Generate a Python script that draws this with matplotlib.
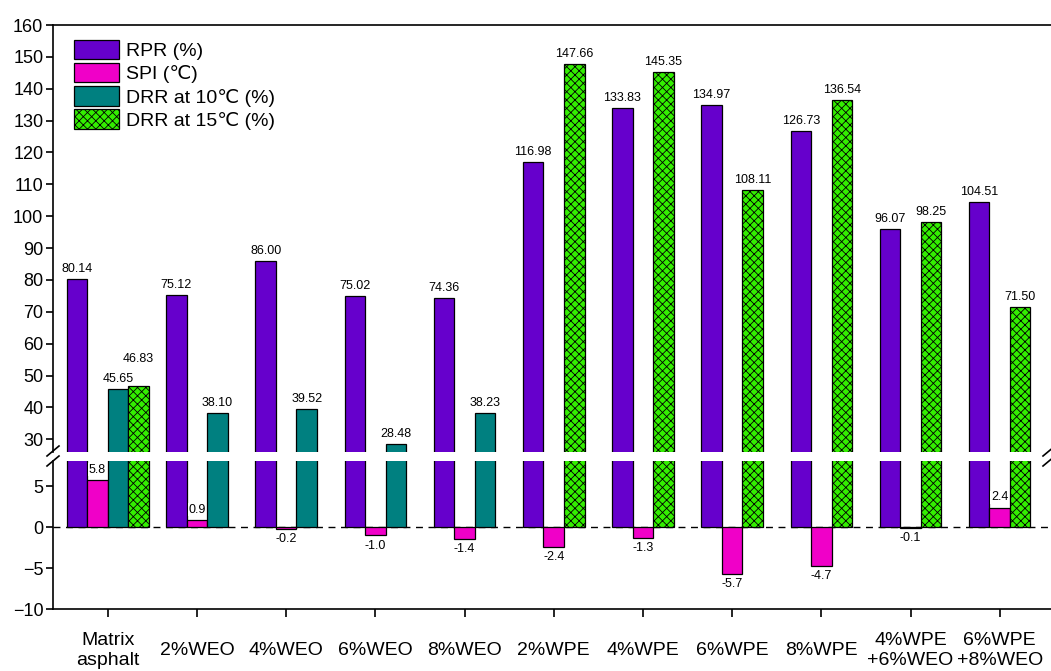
import numpy as np
import matplotlib
matplotlib.use("Agg")
import matplotlib.pyplot as plt
from matplotlib.patches import Patch
from matplotlib.lines import Line2D

plt.rcParams['font.family'] = ['Liberation Sans', 'DejaVu Sans']
plt.rcParams['hatch.linewidth'] = 0.6

categories = ['Matrix\nasphalt', '2%WEO', '4%WEO', '6%WEO', '8%WEO', '2%WPE',
              '4%WPE', '6%WPE', '8%WPE', '4%WPE\n+6%WEO', '6%WPE\n+8%WEO']
rpr = [80.14, 75.12, 86.00, 75.02, 74.36, 116.98, 133.83, 134.97, 126.73, 96.07, 104.51]
spi = [5.8, 0.9, -0.2, -1.0, -1.4, -2.4, -1.3, -5.7, -4.7, -0.1, 2.4]
drr10 = [45.65, 38.10, 39.52, 28.48, 38.23, None, None, None, None, None, None]
drr15 = [46.83, None, None, None, None, 147.66, 145.35, 108.11, 136.54, 98.25, 71.50]

series = [
    ('RPR (%)', rpr, '%.2f', dict(facecolor='#6600cc')),
    ('SPI (℃)', spi, '%.1f', dict(facecolor='#f000c8')),
    ('DRR at 10℃ (%)', drr10, '%.2f', dict(facecolor='#008080')),
    ('DRR at 15℃ (%)', drr15, '%.2f', dict(facecolor='#33ee00', hatch='xxxx')),
]

W, H = 1051, 671
fig = plt.figure(figsize=(W / 100, H / 100), dpi=100)
ax_top = fig.add_axes([53 / W, (H - 452) / H, 998 / W, 427 / H])
ax_bot = fig.add_axes([53 / W, (H - 609) / H, 998 / W, 148 / H])

x = np.arange(len(categories))
width = 0.23

for i in x:
    present = [(s, vals[i], fmt, style) for s, vals, fmt, style in series if vals[i] is not None]
    n = len(present)
    for k, (name, v, fmt, style) in enumerate(present):
        xi = i + (k - (n - 1) / 2) * width
        for ax in (ax_top, ax_bot):
            ax.bar(xi, v, width, edgecolor='black', linewidth=0.9, zorder=2, **style)
        # values above 26 are labelled in the upper panel, small ones below
        ax = ax_top if abs(v) > 20 else ax_bot
        dy = 3
        if name.startswith('DRR at 15') and drr10[i] is not None and abs(drr10[i] - v) < 5:
            dy = 15
        if v >= 0:
            t = ax.annotate(fmt % v, (xi, v), xytext=(0, dy), textcoords='offset points',
                            ha='center', va='bottom', fontsize=9, zorder=3)
            if ax is ax_bot:
                t.set_bbox(dict(facecolor='white', edgecolor='none', pad=0.5))
        else:
            ax.annotate(fmt % v, (xi, v), xytext=(0, -3), textcoords='offset points',
                        ha='center', va='top', fontsize=9, zorder=3)

ax_bot.axhline(0, color='black', lw=1, ls=(0, (5, 4)), zorder=1)

xlim = (-0.614, 10.575)
for ax in (ax_top, ax_bot):
    ax.set_xlim(*xlim)
    ax.spines['right'].set_visible(False)
    for sp in ax.spines.values():
        sp.set_linewidth(1.2)
    ax.tick_params(axis='y', direction='out', length=5, width=1.2, labelsize=13, pad=2)

ax_top.set_ylim(26, 160)
ax_top.set_yticks(np.arange(30, 161, 10))
ax_top.spines['bottom'].set_visible(False)
ax_top.tick_params(axis='x', bottom=False, labelbottom=False)

ax_bot.set_ylim(-10, 8.1)
ax_bot.set_yticks([-10, -5, 0, 5])
ax_bot.spines['top'].set_visible(False)
ax_bot.set_xticks(x)
ax_bot.set_xticklabels(categories, fontsize=14, linespacing=1.2)
ax_bot.tick_params(axis='x', direction='out', length=6, width=1.2, pad=24)
for lab in ax_bot.get_xticklabels():
    lab.set_va('center')

# axis break marks
def brk(xc, yc):
    fig.add_artist(Line2D([(xc - 6) / W, (xc + 6) / W], [1 - (yc + 5) / H, 1 - (yc - 5) / H],
                          color='black', lw=1.2, transform=fig.transFigure))

for xc in (53, 1049):
    brk(xc, 451)
    brk(xc, 461)

handles = [Patch(edgecolor='black', linewidth=0.9, label=name, **style)
           for name, _, _, style in series]
fig.legend(handles=handles, loc='upper left', bbox_to_anchor=(74 / W, 1 - 40 / H),
           bbox_transform=fig.transFigure, frameon=False, fontsize=14,
           handlelength=2.3, handleheight=1.15, labelspacing=0.15,
           handletextpad=0.4, borderpad=0, borderaxespad=0)

fig.savefig('out.png', dpi=100)
